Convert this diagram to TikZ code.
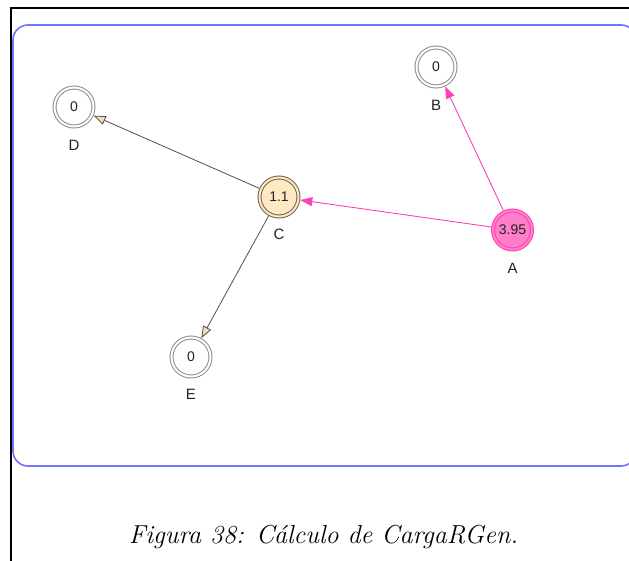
\documentclass[tikz,border=0pt]{standalone}
\usepackage{fontspec}
\usepackage{tikz}
\usetikzlibrary{arrows.meta, positioning}
\newfontfamily\nodefont{Liberation Sans}
\definecolor{ringgray}{HTML}{8C8C8C}
\definecolor{creamfill}{HTML}{FFE8C4}
\definecolor{creamdraw}{HTML}{6E6450}
\definecolor{pinkfill}{HTML}{FF80C8}
\definecolor{pinkdraw}{HTML}{FF40B4}
\definecolor{edgegray}{HTML}{505050}
\definecolor{tipcream}{HTML}{F5DDB0}
\definecolor{frameblue}{HTML}{7373FF}
\definecolor{textdark}{HTML}{222222}

\begin{document}
\begin{tikzpicture}[
    x=1pt, y=-1pt,
    ring/.style={circle, draw=ringgray, line width=1pt, double=white, double distance=2pt,
        minimum size=39pt, inner sep=0pt, outer sep=2pt, text=textdark,
        font=\nodefont\fontsize{14}{15}\selectfont},
    tag/.style={text=textdark, font=\nodefont\fontsize{15}{16}\selectfont, inner sep=0pt},
    grayarr/.style={-{Triangle[length=12pt, width=9pt, fill=tipcream]}, draw=edgegray, line width=0.8pt},
    pinkarr/.style={-{Triangle[length=12pt, width=9pt, fill=pinkdraw]}, draw=pinkdraw, line width=0.9pt}
]
\useasboundingbox (0,0) rectangle (629,561);
\clip (0,0) rectangle (629,561);

% frame and panel
\draw[line width=2pt] (11,561) -- (11,8) -- (640,8);
\draw[frameblue, line width=1.6pt, rounded corners=15pt] (13,25) rectangle (636,466);

% nodes
\node[ring] (D) at (74,107) {0};
\node[ring] (B) at (436,67) {0};
\node[ring, draw=creamdraw, fill=creamfill, double=creamfill] (C) at (279,197) {1.1};
\node[ring, draw=pinkdraw, fill=pinkfill, double=pinkfill] (A) at (512.5,230) {3.95};
\node[ring] (E) at (191,357) {0};

% names
\node[tag] (tD) at (74,145) {D};
\node[tag] (tB) at (436,105) {B};
\node[tag] (tC) at (279,234) {C};
\node[tag] (tA) at (512.5,268) {A};
\node[tag] (tE) at (191,394) {E};

% edges
\draw[grayarr] (C) -- (D);
\draw[grayarr] (C) -- (E);
\draw[pinkarr] (A) -- (C);
\draw[pinkarr] (A) -- (B);

% caption
\node[anchor=base, font=\fontsize{26}{30}\selectfont\itshape, inner sep=0pt] (cap) at (323.5,543) {Figura 38: Cálculo de CargaRGen.};
\end{tikzpicture}
\end{document}
